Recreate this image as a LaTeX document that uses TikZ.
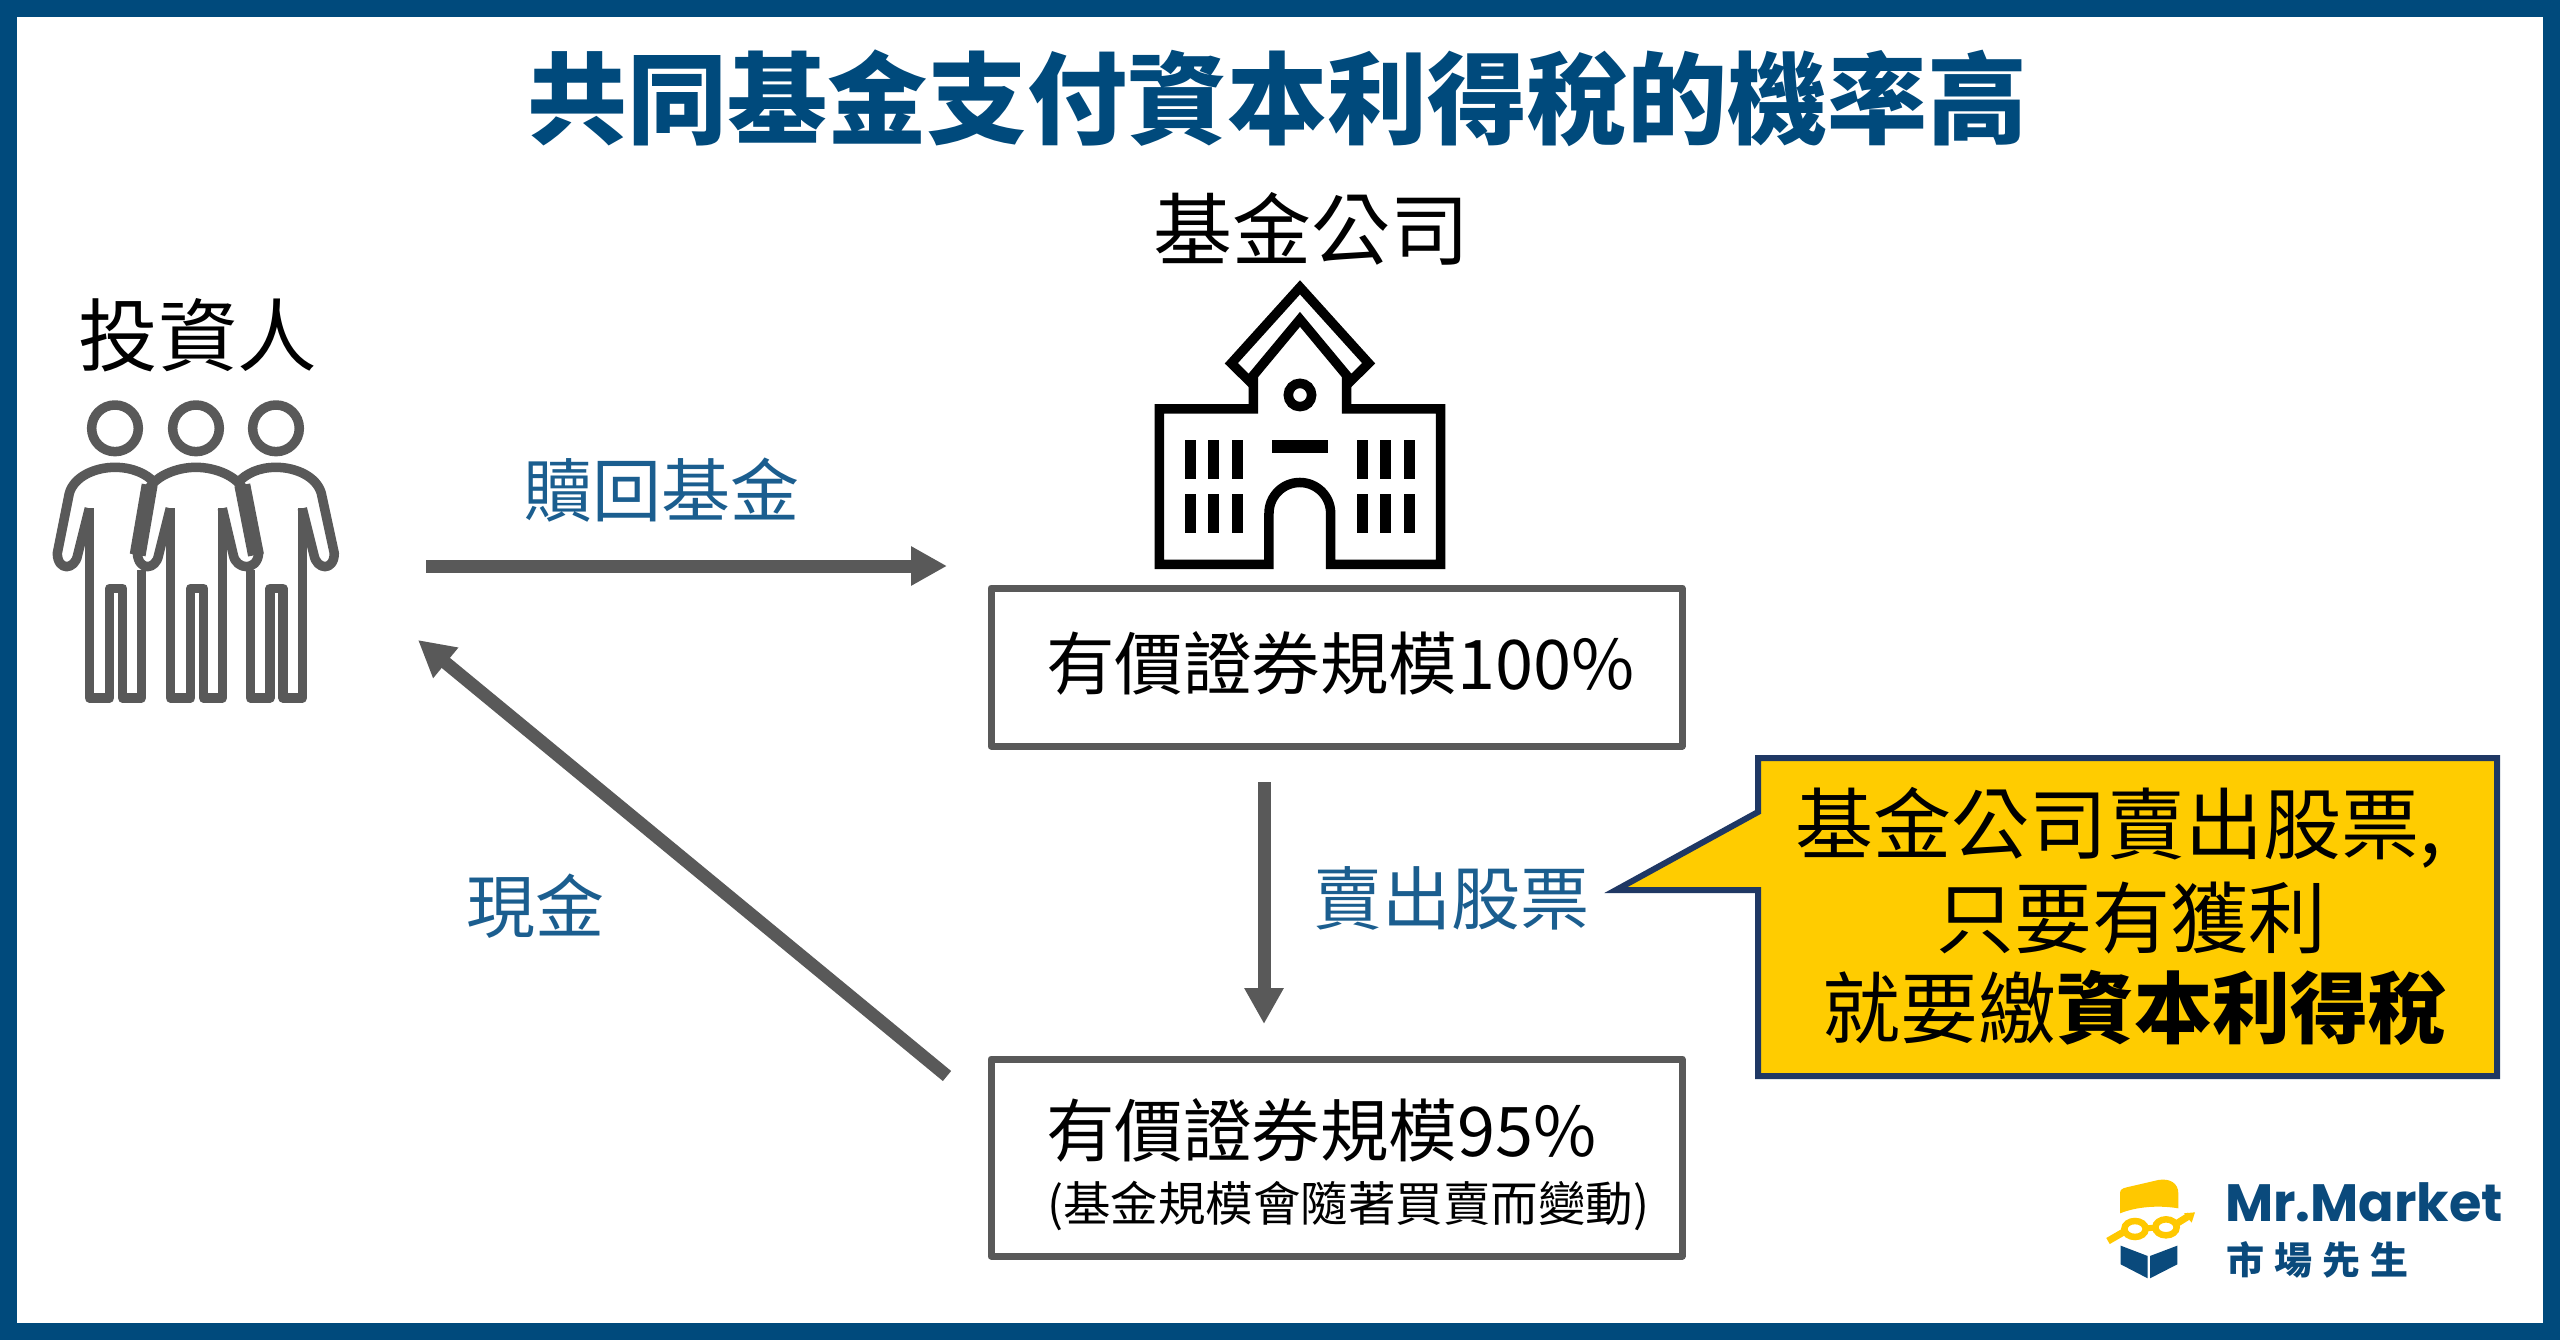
\documentclass[tikz,border=0pt]{standalone}
\usepackage{fontspec}
\setmainfont{Noto Sans CJK TC}
\newfontfamily\logofont{Poppins}
\usetikzlibrary{arrows.meta}
\definecolor{frameblue}{HTML}{004A7C}
\definecolor{labelblue}{HTML}{1B5E8F}
\definecolor{icongray}{HTML}{595959}
\definecolor{calloutfill}{HTML}{FFCC00}
\definecolor{calloutline}{HTML}{1F3864}
\definecolor{logoyellow}{HTML}{FFC800}
\definecolor{logoblue}{HTML}{0A4A7C}
\newcommand{\fs}[1]{\fontsize{#1pt}{#1pt}\selectfont}
\tikzset{
  txt/.style={inner sep=0pt,outer sep=0pt,anchor=center,text=black},
  lbl/.style={txt,text=labelblue,font=\fs{69}},
  flow/.style={line width=13pt,draw=icongray,-{Triangle[length=36pt,width=37pt]}},
  boxy/.style={draw=icongray,line width=7pt,fill=white,line join=round},
  person/.style={draw=icongray,line width=9.5pt,line join=round,line cap=butt},
  bld/.style={draw=black,line width=9.5pt,line join=miter},
  win/.style={fill=black,draw=none}
}
\begin{document}
\begin{tikzpicture}[x=1pt,y=-1pt]
\useasboundingbox (0,0) rectangle (2560,1340);
\fill[white] (0,0) rectangle (2560,1340);
\draw[frameblue,line width=17pt] (8.5,8.5) rectangle (2551.5,1331.5);

\node[txt,text=frameblue,font=\fs{100}\bfseries] (title) at (1277,98) {共同基金支付資本利得稅的機率高};
\node[txt,font=\fs{79}] (fund) at (1311,229) {基金公司};
\node[txt,font=\fs{79.5}] (inv) at (198,335) {投資人};

% investors
\begin{scope}[x=.3333pt,y=-.3333pt,shift={(0pt,-260pt)}]
 \foreach \cx in {345,588,828} \draw[person] (\cx,505) circle[radius=70];
 % centre
 \draw[person] (511,745) -- (511,1314) -- (572,1314) -- (572,985) -- (611,985) -- (611,1314) -- (667,1314) -- (667,745);
 \draw[person] (511,745) -- (476,885) .. controls (468,930) and (416,935) .. (412,880) -- (440,700) .. controls (458,650) and (528,622) .. (588,622) .. controls (648,622) and (718,650) .. (736,700) -- (776,880) .. controls (772,935) and (708,930) .. (700,885) -- (667,745);
 % left
 \draw[person] (268,745) -- (268,1314) -- (329,1314) -- (329,985) -- (368,985) -- (368,1314) -- (424,1314) -- (424,930);
 \draw[person] (268,745) -- (233,885) .. controls (225,930) and (173,935) .. (172,880) -- (208,700) .. controls (222,650) and (285,622) .. (345,622) .. controls (395,622) and (440,640) .. (465,670);
 \draw[draw=icongray,line width=16pt] (449,675) -- (413,885);
 % right
 \draw[person] (751,930) -- (751,1314) -- (810,1314) -- (810,985) -- (849,985) -- (849,1314) -- (907,1314) -- (907,745);
 \draw[person] (907,745) -- (942,885) .. controls (950,930) and (1002,935) .. (1003,880) -- (964,700) .. controls (950,650) and (888,622) .. (828,622) .. controls (778,622) and (738,640) .. (712,670);
 \draw[draw=icongray,line width=16pt] (727,675) -- (768,885);
\end{scope}

% building
\begin{scope}[x=.3333pt,y=-.3333pt,shift={(1120pt,-260pt)}]
 \draw[bld] (540,82) -- (746,310) -- (693,362) -- (540,178) -- (387,362) -- (334,310) -- cycle;
 \draw[bld] (400,345) -- (400,447) -- (118,447) -- (118,913) -- (447,913) -- (447,760) arc[start angle=180,end angle=360,radius=92.5] -- (632,913) -- (962,913) -- (962,447) -- (680,447) -- (680,345);
 \draw[bld] (540,405) circle[radius=35];
 \fill[win] (455,540) rectangle (625,578);
 \foreach \wx in {195,265,335,710,781,852} {
  \fill[win] (\wx,540) rectangle ++(33,118);
  \fill[win] (\wx,703) rectangle ++(33,117);
 }
\end{scope}

% boxes
\draw[boxy] (991,588) rectangle (1682,746);
\node[txt,anchor=west,font=\fs{68.5}] (b1) at (1046,663) {有價證券規模100\%};
\draw[boxy] (991,1059) rectangle (1682,1256);
\node[txt,anchor=west,font=\fs{68.5}] (b2) at (1046,1130) {有價證券規模95\%};
\node[txt,anchor=west,font=\fs{47.5}] (b3) at (1047,1206) {(基金規模會隨著買賣而變動)};

% connectors
\coordinate (a1s) at (426,566); \coordinate (a1e) at (947,566);
\coordinate (a2s) at (947,1076); \coordinate (a2e) at (418,640);
\coordinate (a3s) at (1264,782); \coordinate (a3e) at (1264,1024);
\draw[flow] (a1s) -- (a1e);
\draw[flow] (a2s) -- (a2e);
\draw[flow] (a3s) -- (a3e);
\node[lbl] (l1) at (661,490) {贖回基金};
\node[lbl] (l2) at (535,906) {現金};
\node[lbl] (l3) at (1451,898) {賣出股票};

% callout
\draw[fill=calloutfill,draw=calloutline,line width=6pt,line join=miter] (1758,758) -- (2497,758) -- (2497,1076) -- (1758,1076) -- (1758,890) -- (1616,890) -- (1758,812) -- cycle;
\node[txt,font=\fs{78}] (c1) at (2118,828) {基金公司賣出股票,};
\node[txt,font=\fs{78}] (c2) at (2131,918) {只要有獲利};
\node[txt,font=\fs{78}] (c3) at (2134,1008) {就要繳\textbf{資本利得稅}};

% logo
\begin{scope}[x=.3333pt,y=-.3333pt,shift={(2080pt,-1150pt)}]
 \fill[logoyellow] (120,190) -- (120,130) .. controls (120,118) and (128,115) .. (140,112) -- (235,90) .. controls (270,84) and (295,100) .. (295,130) -- (295,175) .. controls (235,165) and (170,170) .. (120,190) -- cycle;
 \fill[logoblue] (122,287) -- (203,318) -- (203,385) -- (122,343) -- cycle;
 \fill[logoblue] (210,318) -- (292,287) -- (292,343) -- (210,385) -- cycle;
 \draw[logoyellow,line width=6.5pt] (165,237) ellipse[x radius=32,y radius=24];
 \draw[logoyellow,line width=6.5pt] (258,232) ellipse[x radius=32,y radius=24];
 \draw[logoyellow,line width=6pt] (197,235) -- (226,233);
 \draw[logoyellow,line width=7pt] (84,273) -- (136,243);
 \draw[logoyellow,line width=7pt] (288,222) -- (328,197);
 \fill[logoyellow] (345,187) -- (312,190) -- (335,218) -- cycle;
\end{scope}
\node[txt,anchor=base west,text=logoblue,font=\logofont\fs{52.5}\bfseries] (m1) at (2225,1221) {Mr.Market};
\node[txt,anchor=west,text=logoblue,font=\fs{38}\bfseries] (m2) at (2226,1260) {市\hspace{10pt}場\hspace{10pt}先\hspace{10pt}生};
\end{tikzpicture}
\end{document}
